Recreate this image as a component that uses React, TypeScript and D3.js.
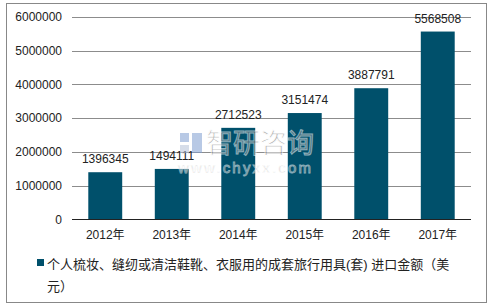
import React from "react";
import * as d3 from "d3";

const categories = ["2012年", "2013年", "2014年", "2015年", "2016年", "2017年"];
const values = [1396345, 1494111, 2712523, 3151474, 3887791, 5568508];
const yTicks = [0, 1000000, 2000000, 3000000, 4000000, 5000000, 6000000];
const legendLine1 = "个人梳妆、缝纫或清洁鞋靴、衣服用的成套旅行用具(套) 进口金额（美";
const legendLine2 = "元）";

export default function App() {
  const W = 495, H = 307;
  const x = d3.scaleBand<string>().domain(categories).range([72, 471]).paddingInner(0.49).paddingOuter(0.245);
  const y = d3.scaleLinear().domain([0, 6000000]).range([219.3, 17]);
  const font = "'Liberation Sans', Arial, sans-serif";
  const cjk = "'Liberation Sans', 'Noto Sans CJK SC', sans-serif";
  return (
    <svg width={W} height={H} style={{ position: "absolute", left: 0, top: 0 }}>
      <rect x={0} y={0} width={W} height={H} fill="#fff" />
      <rect x={6.5} y={3.5} width={480} height={299} fill="#fff" stroke="#888" strokeWidth={1} />
      {yTicks.map((t) => (
        <g key={t}>
          {t > 0 && (
            <line x1={72} x2={471} y1={Math.round(y(t)) + 0.5} y2={Math.round(y(t)) + 0.5} stroke="#8c8c8c" strokeWidth={1} />
          )}
          <text x={62} y={y(t)} dy="0.35em" textAnchor="end" fontFamily={font} fontSize={12} fill="#222">
            {d3.format("d")(t)}
          </text>
        </g>
      ))}
      {categories.map((c, i) => (
        <g key={c}>
          <rect x={x(c)} y={y(values[i])} width={x.bandwidth()} height={y(0) - y(values[i])} fill="#00506b" />
          <text x={x(c)! + x.bandwidth() / 2} y={y(values[i]) - 9} textAnchor="middle" fontFamily={font} fontSize={12} fill="#222">
            {values[i]}
          </text>
          <text x={x(c)! + x.bandwidth() / 2} y={239} textAnchor="middle" fontFamily={cjk} fontSize={12} fill="#222">
            {c}
          </text>
        </g>
      ))}
      <line x1={72} x2={471} y1={219.5} y2={219.5} stroke="#222" strokeWidth={1} />
      {/* watermark */}
      <g opacity={0.55}>
        <rect x={180} y={133} width={9} height={9} fill="#7f9dd0" />
        <rect x={192} y={133} width={10} height={20} fill="#7f9dd0" />
        <rect x={180} y={145} width={9} height={8} fill="#b5c2d8" />
        <text x={206} y={153} fontFamily="'Noto Sans CJK SC', sans-serif" fontSize={27} fill="#7a7a7a" stroke="#fff" strokeWidth={1}>
          智研咨询
        </text>
        <text x={178} y={173} fontFamily={font} fontSize={15} letterSpacing={2.2} fill="#7a7a7a" stroke="#fff" strokeWidth={0.8}>
          www.chyxx.com
        </text>
      </g>
      <rect x={37} y={259} width={7} height={7} fill="#00506b" />
      <text x={47} y={268.5} fontFamily={cjk} fontSize={13} fill="#222">
        {legendLine1}
      </text>
      <text x={47} y={291} fontFamily={cjk} fontSize={13} fill="#222">
        {legendLine2}
      </text>
    </svg>
  );
}
